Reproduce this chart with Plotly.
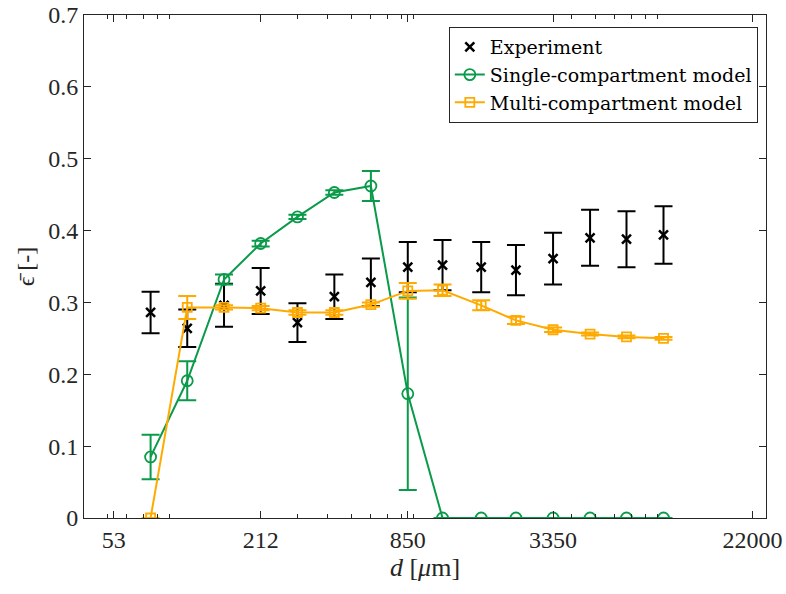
import plotly.graph_objects as go
import numpy as np

# ---- data ----
d = [75, 106, 150, 212, 300, 425, 600, 850, 1180, 1700, 2360, 3350, 4750, 6700, 9500]
exp_mean = [0.286, 0.264, 0.296, 0.316, 0.272, 0.308, 0.328, 0.349, 0.352, 0.349, 0.345, 0.361, 0.390, 0.388, 0.394]
exp_err = [0.029, 0.026, 0.030, 0.032, 0.027, 0.031, 0.033, 0.035, 0.035, 0.035, 0.035, 0.036, 0.039, 0.039, 0.040]
single = [0.085, 0.191, 0.332, 0.382, 0.419, 0.453, 0.462, 0.173, 0, 0, 0, 0, 0, 0, 0]
single_err = [0.031, 0.027, 0.007, 0.004, 0.003, 0.003, 0.021, 0.134, 0, 0, 0, 0, 0, 0, 0]
multi = [0.0, 0.293, 0.293, 0.292, 0.286, 0.286, 0.297, 0.316, 0.317, 0.296, 0.275, 0.262, 0.256, 0.252, 0.250]
multi_err = [0.0, 0.016, 0.003, 0.003, 0.003, 0.003, 0.003, 0.011, 0.008, 0.007, 0.005, 0.003, 0.002, 0.002, 0.002]

x_ticks = [53, 212, 850, 3350, 22000]
x_tick_labels = ["53", "212", "850", "3350", "22000"]
x_minor = [50, 60, 70, 80, 90, 300, 400, 500, 600, 700, 800, 900,
           4000, 5000, 6000, 7000, 8000, 9000]
y_ticks = [0, 0.1, 0.2, 0.3, 0.4, 0.5, 0.6, 0.7]
y_tick_labels = ["0", "0.1", "0.2", "0.3", "0.4", "0.5", "0.6", "0.7"]

BLACK = "#000000"
GREEN = "#0A9A4A"
ORANGE = "#FFAA00"
AX = "#262626"
FONT = "Liberation Serif"
LEG_FONT = "DejaVu Serif"

fig = go.Figure()

fig.add_trace(go.Scatter(
    x=d, y=exp_mean, mode="markers", name="Experiment",
    marker=dict(symbol="x-thin", size=9, color=BLACK, line=dict(width=2.5, color=BLACK)),
    error_y=dict(type="data", array=exp_err, visible=True, color=BLACK, thickness=2, width=9),
))
fig.add_trace(go.Scatter(
    x=d, y=single, mode="lines+markers", name="Single-compartment model",
    line=dict(color=GREEN, width=2),
    marker=dict(symbol="circle-open", size=11, color=GREEN, line=dict(width=1.8, color=GREEN)),
    error_y=dict(type="data", array=single_err, visible=True, color=GREEN, thickness=2, width=9),
))
fig.add_trace(go.Scatter(
    x=d, y=multi, mode="lines+markers", name="Multi-compartment model",
    line=dict(color=ORANGE, width=2),
    marker=dict(symbol="square-open", size=9, color=ORANGE, line=dict(width=1.8, color=ORANGE)),
    error_y=dict(type="data", array=multi_err, visible=True, color=ORANGE, thickness=2, width=9),
))

fig.update_layout(
    width=786, height=594,
    margin=dict(l=84, r=20, t=15, b=76),
    paper_bgcolor="white", plot_bgcolor="white",
    font=dict(family=FONT, size=24, color="#262626"),
    showlegend=True,
    legend=dict(
        x=0.988, y=0.976, xanchor="right", yanchor="top",
        bgcolor="white", bordercolor=AX, borderwidth=1,
        font=dict(family=LEG_FONT, size=19, color="#000000"),
        tracegroupgap=0, itemwidth=30,
    ),
    xaxis=dict(
        type="log", range=[np.log10(40), np.log10(25000)],
        tickmode="array", tickvals=x_ticks, ticktext=x_tick_labels,
        ticks="inside", ticklen=7, tickwidth=1, tickcolor=AX,
        showline=True, linecolor=AX, linewidth=1, mirror="ticks",
        showgrid=False, zeroline=False, automargin=False,
        tickfont=dict(family=FONT, size=24, color="#262626"),
        minor=dict(tickmode="array", tickvals=x_minor, ticks="inside", ticklen=4,
                   tickcolor=AX, tickwidth=1, showgrid=False),
        title=dict(text="<i>d</i> [<i>μ</i>m]", font=dict(family=FONT, size=26, color="#262626"), standoff=4),
    ),
    yaxis=dict(
        range=[0, 0.7],
        tickmode="array", tickvals=y_ticks, ticktext=y_tick_labels,
        ticks="inside", ticklen=7, tickwidth=1, tickcolor=AX,
        showline=True, linecolor=AX, linewidth=1, mirror="ticks",
        showgrid=False, zeroline=False, automargin=False,
        tickfont=dict(family=FONT, size=24, color="#262626"),
        title=dict(text="\u03f5\u0304 [-]", font=dict(family=FONT, size=24, color="#262626"), standoff=6),
    ),
)

fig.write_html("out.html", config={"displayModeBar": False},
               post_script="document.body.style.margin='0';")
